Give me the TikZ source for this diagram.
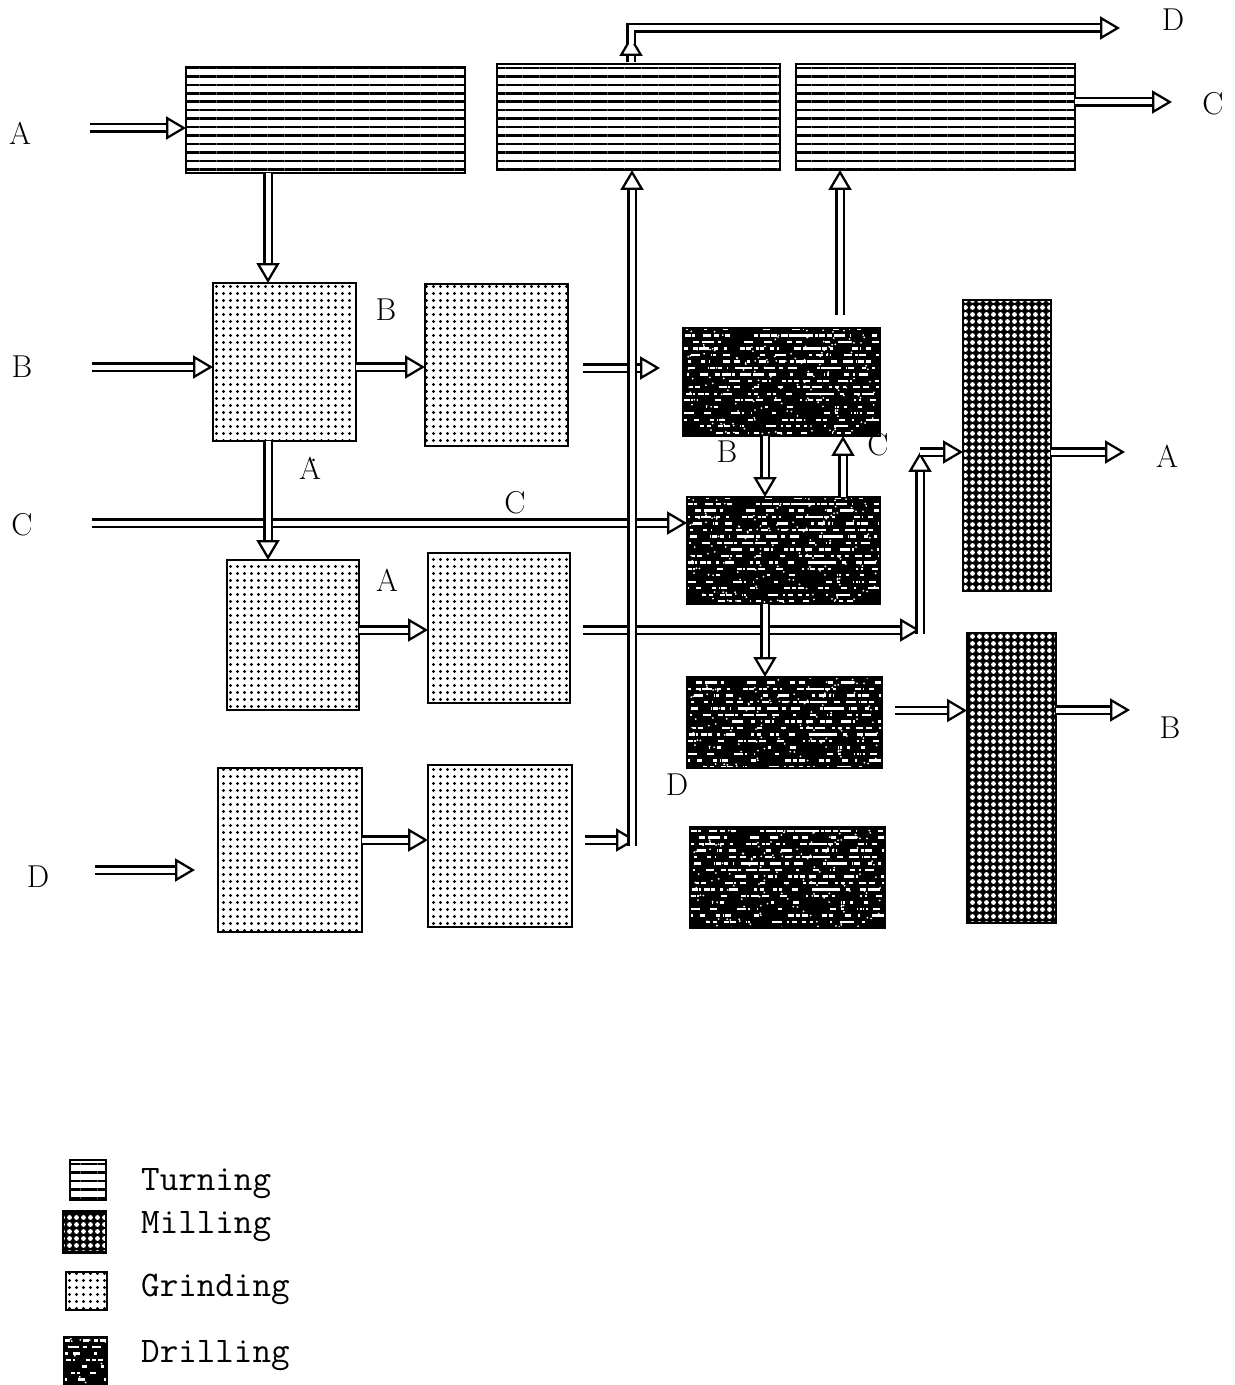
\documentclass[tikz,border=0pt]{standalone}
\usepackage{fontspec}
\usetikzlibrary{arrows.meta,calc,patterns.meta}

\begin{document}
\begin{tikzpicture}[x=0.02cm,y=-0.02cm,
  box/.style={draw,line width=0.05cm,inner sep=0pt,outer sep=0pt},
  turning/.style={box,pattern={Lines[distance=0.17cm,line width=0.05cm]}},
  grinding/.style={box,pattern={Dots[distance=0.14cm,radius=0.032cm]}},
  milling/.style={box,preaction={fill=black},pattern={Dots[distance=0.14cm,radius=0.048cm]},pattern color=white},
  drilling/.style={box,fill=black,path picture={
    \pgfmathsetseed{7}
    \foreach \n in {1,...,380}
      \fill[white] ([xshift={rand*2cm},yshift={round(rand*8)*0.13cm}]path picture bounding box.center)
        rectangle ++({0.02cm+rnd*0.12cm},0.045cm);
    \foreach \n in {1,...,160}
      \fill[white] ([xshift={rand*2cm},yshift={rand*1.1cm}]path picture bounding box.center) circle (0.02cm);
  }},
  flow/.style={double,double distance=0.1cm,line width=0.045cm,-{Triangle[open,length=0.4cm,width=0.46cm]}},
  lbl/.style={font=\fontsize{18}{18}\selectfont},
  key/.style={font=\fontsize{20.5}{22}\selectfont\ttfamily,anchor=base west}]
\useasboundingbox (0,0) rectangle (1234,1385);

% machines
\node[turning,minimum width=5.58cm,minimum height=2.12cm] (t1) at (325.5,120) {};
\node[turning,minimum width=5.66cm,minimum height=2.12cm] (t2) at (638.5,117) {};
\node[turning,minimum width=5.58cm,minimum height=2.12cm] (t3) at (935.5,117) {};
\node[grinding,minimum width=2.86cm,minimum height=3.16cm] (g1) at (284.5,362) {};
\node[grinding,minimum width=2.86cm,minimum height=3.24cm] (g2) at (496.5,365) {};
\node[grinding,minimum width=2.64cm,minimum height=3.0cm] (g3) at (293,635) {};
\node[grinding,minimum width=2.84cm,minimum height=3.0cm] (g4) at (499,628) {};
\node[grinding,minimum width=2.88cm,minimum height=3.28cm] (g5) at (290,850) {};
\node[grinding,minimum width=2.88cm,minimum height=3.24cm] (g6) at (500,846) {};
\node[drilling,minimum width=3.94cm,minimum height=2.16cm] (d1) at (781.5,382) {};
\node[drilling,minimum width=3.86cm,minimum height=2.14cm] (d2) at (783.5,550.5) {};
\node[drilling,minimum width=3.9cm,minimum height=1.82cm] (d3) at (784.5,722.5) {};
\node[drilling,minimum width=3.9cm,minimum height=2.02cm] (d4) at (787.5,877.5) {};
\node[milling,minimum width=1.76cm,minimum height=5.82cm] (m1) at (1007,445.5) {};
\node[milling,minimum width=1.78cm,minimum height=5.8cm] (m2) at (1011.5,778) {};

% part labels
\node[lbl] (inA) at (20,133) {A};
\node[lbl] (inB) at (22,367) {B};
\node[lbl] (inC) at (22,525) {C};
\node[lbl] (inD) at (38,877) {D};
\node[lbl] (lB1) at (386,310) {B};
\node[lbl] (lA1) at (310,468) {\.{A}};
\node[lbl] (lC1) at (515,503) {C};
\node[lbl] (lA2) at (387,580) {A};
\node[lbl] (lB2) at (727,452) {B};
\node[lbl] (lC2) at (878,445) {C};
\node[lbl] (lD1) at (677,785) {D};
\node[lbl] (outlD) at (1173,20) {D};
\node[lbl] (outlC) at (1213,104) {C};
\node[lbl] (outlA) at (1167,456) {A};
\node[lbl] (outlB) at (1170,728) {B};

% inputs
\coordinate (sA) at (90,128);
\coordinate (sB) at (92,367);
\coordinate (sC) at (92,523);
\coordinate (sD) at (95,870);
\coordinate (eD) at (195,870);
\draw[flow] (sA) -- (sA -| t1.west);
\draw[flow] (sB) -- (sB -| g1.west);
\draw[flow] (sC) -- (sC -| d2.west);
\draw[flow] (sD) -- (eD);

% grinding lines
\coordinate (v1) at ($(t1.south)+(-57.5,0)$);
\coordinate (v2) at ($(g1.south)+(-16.5,0)$);
\draw[flow] (v1) -- (v1 |- g1.north);
\draw[flow] (v2) -- (v2 |- g3.north);
\draw[flow] (g1.east |- sB) -- (g2.west |- sB);
\coordinate (h3) at ($(g3.east)+(0,-5)$);
\coordinate (h5) at ($(g5.east)+(0,-10)$);
\draw[flow] (h3) -- (h3 -| g4.west);
\draw[flow] (h5) -- (h5 -| g6.west);

\coordinate (o2) at ($(g2.east)+(15,3)$);
\coordinate (o2e) at ($(d1.west)+(-23,-14)$);
\draw[flow] (o2) -- (o2e);

\coordinate (o4) at ($(g4.east)+(13,2)$);
\coordinate (b1) at (920,630);
\coordinate (b2) at (920,452);
\draw[flow] (o4) -- (b1);
\draw[flow] ($(b1)+(0,4)$) -- (b2);
\draw[flow] (b2) -- (b2 -| m1.west);

\coordinate (o6) at ($(g6.east)+(13,-6)$);
\coordinate (c1) at (636,840);
\coordinate (c2) at (632,846);
\draw[flow] (o6) -- (c1);
\draw[flow] (c2) -- (c2 |- t2.south);
\coordinate (c3) at (631,62);
\coordinate (c4) at (631,36);
\coordinate (c5) at (631,44);
\coordinate (eD2) at (1120,28);
\draw[flow] (c3) -- (c4);
\draw[flow] (c5) |- (eD2);

% drilling lines
\coordinate (k1) at ($(d1.south)+(-16.5,0)$);
\coordinate (k2) at ($(d2.north)+(59.5,0)$);
\coordinate (k3) at ($(d2.south)+(-18.5,0)$);
\coordinate (k4) at ($(d1.north)+(58.5,-13)$);
\coordinate (k5) at ($(d3.east)+(13,-12)$);
\draw[flow] (k1) -- (k1 |- d2.north);
\draw[flow] (k2) -- (k2 |- d1.south);
\draw[flow] (k3) -- (k3 |- d3.north);
\draw[flow] (k4) -- (k4 |- t3.south);
\draw[flow] (k5) -- (k5 -| m2.west);

% outputs
\coordinate (outA) at (1125,452);
\coordinate (outB) at (1130,710);
\coordinate (outC) at (1172,102);
\draw[flow] (m1.east |- outA) -- (outA);
\draw[flow] (m2.east |- outB) -- (outB);
\draw[flow] (t3.east |- outC) -- (outC);

% legend
\node[turning,minimum width=0.72cm,minimum height=0.8cm] (kt) at (88,1180) {};
\node[milling,minimum width=0.86cm,minimum height=0.82cm] (km) at (84.5,1232) {};
\node[grinding,minimum width=0.82cm,minimum height=0.76cm] (kg) at (86.5,1291) {};
\node[drilling,minimum width=0.86cm,minimum height=0.96cm] (kd) at (85.5,1361) {};
\node[key] (nt) at (135,1190) {Turning};
\node[key] (nm) at (135,1233) {Milling};
\node[key] (ng) at (135,1296) {Grinding};
\node[key] (nd) at (135,1362) {Drilling};
\end{tikzpicture}
\end{document}
